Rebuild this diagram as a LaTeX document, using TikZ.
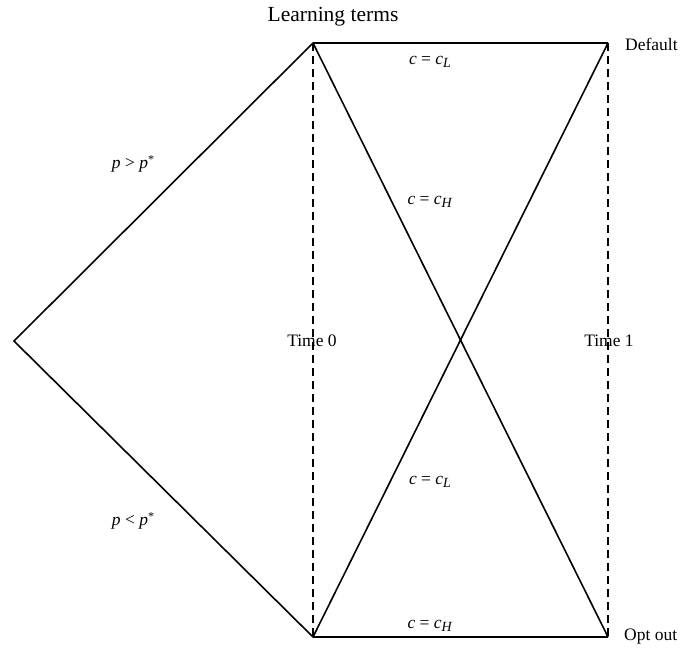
\documentclass[tikz,border=0pt]{standalone}
\usepackage{fontspec}
\setmainfont{Liberation Serif}
\newcommand{\mysub}[1]{\raisebox{-0.3ex}{\fontsize{14}{16}\selectfont\textit{#1}}}
\newcommand{\mysup}[1]{\raisebox{0.55ex}{\fontsize{12}{14}\selectfont #1}}
\begin{document}
\begin{tikzpicture}[x=1pt,y=-1pt,
  solidline/.style={line width=1.6pt},
  dashline/.style={line width=1.4pt,dash pattern=on 8pt off 5pt},
  lbl/.style={font=\fontsize{17.5}{20}\selectfont,inner sep=0pt}]
\useasboundingbox (0,0) rectangle (685,650);
\coordinate (root) at (14,341);
\coordinate (tl) at (313,43);
\coordinate (tr) at (608,43);
\coordinate (bl) at (313,637);
\coordinate (br) at (608,637);
\draw[solidline,line join=miter] (tl) -- (root) -- (bl);
\draw[solidline] (tl) -- (tr);
\draw[solidline] (bl) -- (br);
\draw[solidline] (tl) -- (br);
\draw[solidline] (bl) -- (tr);
\draw[dashline] (tl) -- (bl);
\draw[dashline] (tr) -- (br);
\node[lbl,font=\fontsize{21.5}{24}\selectfont] (title) at (333,17) {Learning terms};
\node[lbl,anchor=west] (def) at (625,44) {Default};
\node[lbl,anchor=west] (opt) at (624,637) {Opt out};
\node[lbl] (t0) at (312,341) {Time 0};
\node[lbl] (t1) at (609,341) {Time 1};
\node[lbl] (pg) at (133,164) {\textit{p} > \textit{p}\mysup{*}};
\node[lbl] (pl) at (133,521) {\textit{p} < \textit{p}\mysup{*}};
\node[lbl] (cl1) at (430,62) {\textit{c} = \textit{c}\mysub{L}};
\node[lbl] (ch1) at (430,202) {\textit{c} = \textit{c}\mysub{H}};
\node[lbl] (cl2) at (430,482) {\textit{c} = \textit{c}\mysub{L}};
\node[lbl] (ch2) at (430,626) {\textit{c} = \textit{c}\mysub{H}};
\end{tikzpicture}
\end{document}
